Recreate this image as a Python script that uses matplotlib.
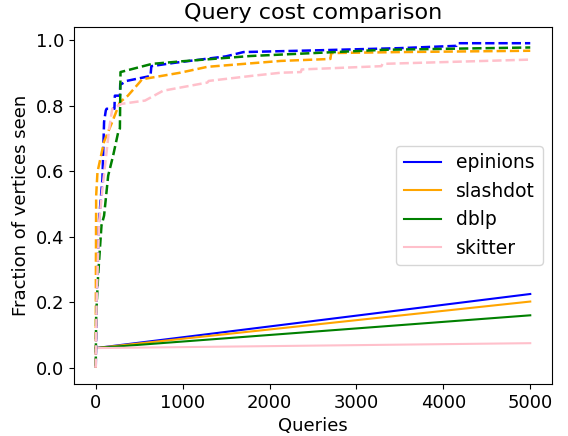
import matplotlib
matplotlib.use("Agg")
import matplotlib.pyplot as plt

names = ["epinions", "slashdot", "dblp", "skitter"]
colors = ["blue", "orange", "green", "pink"]

# solid (baseline) lines
base_x = [0, 5000]
base_epinions = [0.06, 0.225]
base_slashdot = [0.06, 0.202]
base_dblp = [0.06, 0.16]
base_skitter = [0.06, 0.075]

# dashed (method) curves
ep_x = [0, 10, 39, 77, 96, 116, 125, 190, 215, 220, 278, 282, 300, 355, 630, 640, 900, 1200, 1500, 1700, 2500, 3500, 4150, 4160, 5000]
ep_y = [0.0, 0.2, 0.455, 0.576, 0.75, 0.785, 0.79, 0.79, 0.79, 0.83, 0.83, 0.866, 0.866, 0.875, 0.89, 0.92, 0.93, 0.94, 0.95, 0.963, 0.968, 0.975, 0.982, 0.99, 0.99]

sl_x = [0, 2, 5, 20, 96, 190, 278, 370, 509, 532, 972, 1285, 2130, 2700, 2710, 3500, 5000]
sl_y = [0.0, 0.3, 0.525, 0.597, 0.69, 0.75, 0.81, 0.83, 0.872, 0.88, 0.90, 0.918, 0.936, 0.942, 0.96, 0.963, 0.967]

db_x = [0, 5, 27, 66, 96, 143, 200, 258, 278, 285, 648, 1000, 1782, 3322, 5000]
db_y = [0.006, 0.16, 0.28, 0.434, 0.464, 0.586, 0.647, 0.718, 0.73, 0.902, 0.927, 0.935, 0.951, 0.97, 0.977]

sk_x = [0, 10, 39, 77, 155, 190, 297, 567, 775, 1285, 1300, 1782, 2130, 2360, 2370, 3287, 3300, 5000]
sk_y = [0.0, 0.2, 0.445, 0.546, 0.73, 0.79, 0.805, 0.815, 0.845, 0.87, 0.875, 0.89, 0.90, 0.902, 0.91, 0.92, 0.927, 0.94]

fig = plt.figure(figsize=(5.68, 4.36), dpi=100)
ax = fig.add_axes([0.1303, 0.1193, 0.8415, 0.8188])

bases = [base_epinions, base_slashdot, base_dblp, base_skitter]
curves = [(ep_x, ep_y), (sl_x, sl_y), (db_x, db_y), (sk_x, sk_y)]

for n, c, b in zip(names, colors, bases):
    ax.plot(base_x, b, color=c, lw=1.5, label=n)
for c, (xs, ys) in zip(colors, curves):
    ax.plot(xs, ys, color=c, lw=1.8, ls="--")

ax.set_title("Query cost comparison", fontsize=16)
ax.set_xlabel("Queries", fontsize=13)
ax.set_ylabel("Fraction of vertices seen", fontsize=13)
ax.tick_params(labelsize=13)
ax.legend(loc="center right", fontsize=13.5)

fig.savefig("out.png", dpi=100)
